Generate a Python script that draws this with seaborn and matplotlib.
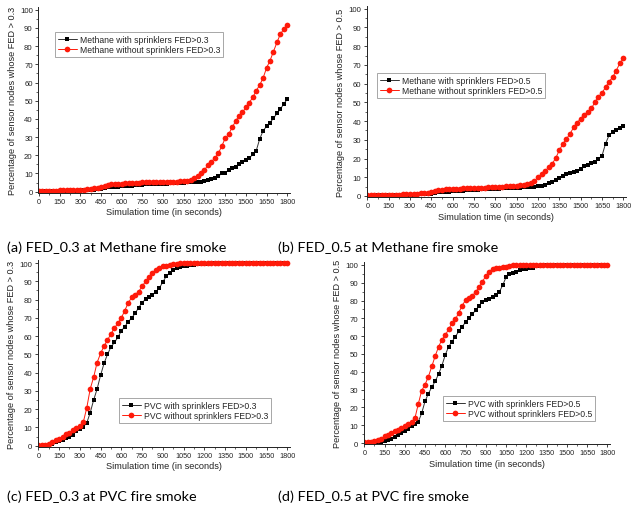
import numpy as np
import pandas as pd
import matplotlib
matplotlib.use("Agg")
import matplotlib.pyplot as plt
from matplotlib.ticker import MultipleLocator
import seaborn as sns

# ---------------- data ----------------
TIME = list(range(0, 1801, 25))

meth03_with = [0.3, 0.3, 0.3, 0.4, 0.4, 0.4, 0.5, 0.5,
               0.5, 0.6, 0.6, 0.6, 0.7, 0.8, 0.9, 1.0,
               1.2, 1.4, 1.7, 2.1, 2.4, 2.6, 2.7, 2.8,
               2.9, 3.0, 3.2, 3.4, 3.6, 3.8, 3.9, 4.0,
               4.1, 4.2, 4.3, 4.3, 4.4, 4.5, 4.6, 4.7,
               4.8, 4.9, 5.0, 5.1, 5.2, 5.3, 5.4, 5.6,
               5.9, 6.2, 6.8, 7.5, 8.5, 10.0, 10.5, 11.8,
               12.8, 13.8, 15.0, 16.3, 17.5, 18.5, 20.5, 22.5,
               28.9, 33.5, 35.9, 38.0, 40.3, 43.0, 45.4, 48.2,
               50.9]
meth03_without = [0.5, 0.5, 0.5, 0.6, 0.6, 0.6, 0.7, 0.7,
                  0.8, 0.8, 0.9, 0.9, 1.0, 1.1, 1.3, 1.5,
                  1.8, 2.1, 2.4, 3.0, 3.7, 4.1, 4.3, 4.4,
                  4.5, 4.6, 4.7, 4.8, 4.9, 5.0, 5.1, 5.1,
                  5.2, 5.2, 5.3, 5.3, 5.4, 5.4, 5.5, 5.5,
                  5.6, 5.7, 5.8, 6.1, 6.6, 7.3, 8.5, 10.0,
                  12.0, 14.5, 16.5, 18.5, 21.0, 25.0, 29.3, 31.5,
                  35.3, 38.6, 41.8, 43.6, 46.3, 49.0, 51.8, 55.5,
                  58.6, 62.5, 68.0, 72.0, 77.0, 82.0, 86.6, 89.4,
                  91.6]
meth05_with = [0.2, 0.2, 0.2, 0.3, 0.3, 0.3, 0.3, 0.4,
               0.4, 0.4, 0.5, 0.5, 0.5, 0.6, 0.7, 0.8,
               1.0, 1.1, 1.3, 1.6, 1.9, 2.1, 2.2, 2.3,
               2.4, 2.5, 2.7, 2.9, 3.0, 3.2, 3.3, 3.4,
               3.5, 3.6, 3.7, 3.8, 3.8, 3.9, 4.0, 4.1,
               4.2, 4.3, 4.4, 4.5, 4.6, 4.7, 4.8, 5.0,
               5.2, 5.5, 6.0, 6.7, 7.5, 8.5, 9.5, 10.5,
               11.8, 12.5, 12.8, 13.5, 14.5, 15.8, 16.7, 17.5,
               18.2, 19.8, 21.5, 28.0, 32.5, 34.0, 35.0, 36.5,
               37.5]
meth05_without = [0.3, 0.3, 0.4, 0.4, 0.5, 0.5, 0.6, 0.6,
                  0.7, 0.7, 0.8, 0.8, 0.9, 1.0, 1.2, 1.4,
                  1.6, 1.8, 2.2, 2.7, 3.1, 3.3, 3.5, 3.6,
                  3.7, 3.8, 3.9, 4.0, 4.1, 4.2, 4.3, 4.4,
                  4.5, 4.5, 4.6, 4.7, 4.8, 4.9, 5.0, 5.1,
                  5.2, 5.3, 5.4, 5.6, 5.8, 6.2, 6.9, 8.1,
                  9.9, 11.7, 13.4, 15.3, 17.2, 20.3, 24.4, 27.9,
                  30.5, 33.2, 36.6, 39.1, 41.3, 43.5, 44.8, 46.8,
                  50.0, 53.1, 55.1, 58.0, 61.1, 63.4, 67.0, 70.8,
                  73.5]
pvc03_with = [0.0, 0.0, 0.0, 0.2, 0.8, 2.0, 2.6, 3.3,
              4.1, 4.8, 6.0, 7.9, 9.1, 10.4, 12.4, 18.0,
              25.0, 31.0, 38.5, 45.0, 50.0, 54.0, 56.5, 59.3,
              62.8, 65.2, 67.8, 70.0, 72.4, 75.6, 78.2, 80.2,
              81.2, 82.6, 84.3, 86.3, 89.6, 92.8, 94.6, 96.1,
              97.1, 97.8, 98.2, 98.5, 98.8, 99.0, 99.3, 99.5,
              99.6, 99.7, 99.8, 99.9, 100, 100, 100, 100,
              100, 100, 100, 100, 100, 100, 100, 100,
              100, 100, 100, 100, 100, 100, 100, 100,
              100]
pvc03_without = [0.3, 0.4, 0.6, 0.9, 1.8, 2.9, 3.8, 4.9,
                 6.2, 7.1, 8.4, 9.5, 10.6, 12.8, 20.6, 31.0,
                 37.5, 45.5, 50.5, 54.5, 57.8, 61.2, 64.4, 67.0,
                 69.9, 74.0, 78.1, 81.2, 82.7, 84.3, 87.2, 89.9,
                 92.4, 94.6, 96.2, 97.4, 98.2, 98.6, 99.0, 99.3,
                 99.6, 99.8, 100, 100, 100, 100, 100, 100,
                 100, 100, 100, 100, 100, 100, 100, 100,
                 100, 100, 100, 100, 100, 100, 100, 100,
                 100, 100, 100, 100, 100, 100, 100, 100,
                 100]
pvc05_with = [0.0, 0.0, 0.0, 0.0, 0.3, 0.7, 1.2, 1.8,
              2.5, 3.3, 4.3, 5.6, 6.8, 8.1, 9.4, 10.7,
              11.9, 16.7, 23.4, 27.8, 31.3, 34.7, 38.6, 43.5,
              49.5, 54.2, 56.9, 59.8, 62.7, 65.3, 67.9, 70.1,
              72.3, 74.6, 77.0, 79.3, 80.4, 81.1, 82.1, 83.1,
              84.8, 88.6, 93.1, 94.8, 95.5, 96.3, 97.3, 97.6,
              97.9, 98.2, 98.5, 99.2, 99.6, 99.8, 100, 100,
              100, 100, 100, 100, 100, 100, 100, 100,
              100, 100, 100, 100, 100, 100, 100, 100,
              100]
pvc05_without = [0.5, 0.7, 0.8, 1.0, 1.6, 2.5, 3.7, 4.5,
                 5.5, 6.5, 7.5, 8.4, 9.4, 10.6, 11.6, 13.9,
                 21.9, 29.4, 32.8, 37.3, 43.0, 48.8, 54.0, 58.0,
                 60.5, 64.0, 67.2, 69.5, 73.2, 77.2, 80.2, 81.2,
                 82.6, 84.9, 87.4, 90.7, 93.7, 96.0, 97.8, 98.1,
                 98.4, 98.6, 98.9, 99.5, 100, 100, 100, 100,
                 100, 100, 100, 100, 100, 100, 100, 100,
                 100, 100, 100, 100, 100, 100, 100, 100,
                 100, 100, 100, 100, 100, 100, 100, 100,
                 100]

XTICKS = [0, 150, 300, 450, 600, 750, 900, 1050, 1200, 1350, 1500, 1650, 1800]
YTICKS = [0, 10, 20, 30, 40, 50, 60, 70, 80, 90, 100]
XLABEL = "Simulation time (in seconds)"

panels = [
    dict(with_=meth03_with, without=meth03_without,
         lab_with="Methane with sprinklers FED>0.3",
         lab_without="Methane without sprinklers FED>0.3",
         ylabel="Percentage of sensor nodes whose FED > 0.3",
         caption="(a) FED_0.3 at Methane fire smoke",
         rect_px=(38.3, 8.0, 290.0, 193.6), leg_px=(55, 33), cap_px=(7, 248)),
    dict(with_=meth05_with, without=meth05_without,
         lab_with="Methane with sprinklers FED>0.5",
         lab_without="Methane without sprinklers FED>0.5",
         ylabel="Percentage of sensor nodes whose FED > 0.5",
         caption="(b) FED_0.5 at Methane fire smoke",
         rect_px=(366.6, 6.9, 626.2, 197.9), leg_px=(377, 74), cap_px=(278, 248)),
    dict(with_=pvc03_with, without=pvc03_without,
         lab_with="PVC with sprinklers FED>0.3",
         lab_without="PVC without sprinklers FED>0.3",
         ylabel="Percentage of sensor nodes whose FED > 0.3",
         caption="(c) FED_0.3 at PVC fire smoke",
         rect_px=(37.6, 261.3, 290.1, 447.6), leg_px=(119, 399), cap_px=(7, 497)),
    dict(with_=pvc05_with, without=pvc05_without,
         lab_with="PVC with sprinklers FED>0.5",
         lab_without="PVC without sprinklers FED>0.5",
         ylabel="Percentage of sensor nodes whose FED > 0.5",
         caption="(d) FED_0.5 at PVC fire smoke",
         rect_px=(363.6, 263.3, 610.0, 444.9), leg_px=(443, 397), cap_px=(278, 497)),
]

sns.set_theme(style="ticks")
plt.rcParams["font.family"] = ["Liberation Sans", "DejaVu Sans"]

W, H = 631, 510
fig = plt.figure(figsize=(W / 100, H / 100), dpi=100)
fig.patch.set_facecolor("white")

RED = "#ff1a0a"
for p in panels:
    x0, y0, x1, y1 = p["rect_px"]
    ax = fig.add_axes([x0 / W, 1 - y1 / H, (x1 - x0) / W, (y1 - y0) / H])
    ax.set_facecolor("white")
    df = pd.DataFrame({"t": TIME, "with": p["with_"], "without": p["without"]})
    sns.lineplot(data=df, x="t", y="with", ax=ax, color="#333333", lw=0.7,
                 marker="s", markersize=3.1, markerfacecolor="black",
                 markeredgecolor="black", markeredgewidth=0, label=p["lab_with"])
    sns.lineplot(data=df, x="t", y="without", ax=ax, color=RED, lw=0.7,
                 marker="o", markersize=4.1, markerfacecolor=RED,
                 markeredgecolor=RED, markeredgewidth=0, label=p["lab_without"])
    ax.set_xlim(-5, 1820)
    ax.set_ylim(-0.5, 101.5)
    ax.set_xticks(XTICKS)
    ax.set_yticks(YTICKS)
    ax.xaxis.set_minor_locator(MultipleLocator(75))
    ax.yaxis.set_minor_locator(MultipleLocator(5))
    ax.tick_params(axis="both", which="major", direction="out", length=2.5,
                   width=0.6, labelsize=5.2, pad=1.5, colors="#222222")
    ax.tick_params(axis="both", which="minor", direction="out", length=1.3, width=0.5)
    ax.tick_params(axis="y", labelsize=5.6)
    for s in ("top", "right"):
        ax.spines[s].set_visible(False)
    for s in ("left", "bottom"):
        ax.spines[s].set_linewidth(0.7)
        ax.spines[s].set_color("#222222")
    ax.set_xlabel(XLABEL, fontsize=6.6, labelpad=1.5, color="#222222")
    ax.set_ylabel(p["ylabel"], fontsize=6.6, labelpad=2, color="#222222")
    lx, ly = p["leg_px"]
    leg = ax.legend(loc="upper left", bbox_to_anchor=(lx / W, 1 - ly / H),
                    bbox_transform=fig.transFigure, borderaxespad=0,
                    fontsize=6.2, frameon=True, fancybox=False, framealpha=1,
                    edgecolor="#999999", handlelength=2.2, handletextpad=0.4,
                    borderpad=0.3, labelspacing=0.2)
    leg.get_frame().set_linewidth(0.6)
    cx, cy = p["cap_px"]
    fig.text(cx / W, 1 - cy / H, p["caption"], fontsize=10.4, family=["Lato", "DejaVu Sans"],
             ha="left", va="center", color="black")

fig.savefig("out.png", dpi=100, facecolor="white")
